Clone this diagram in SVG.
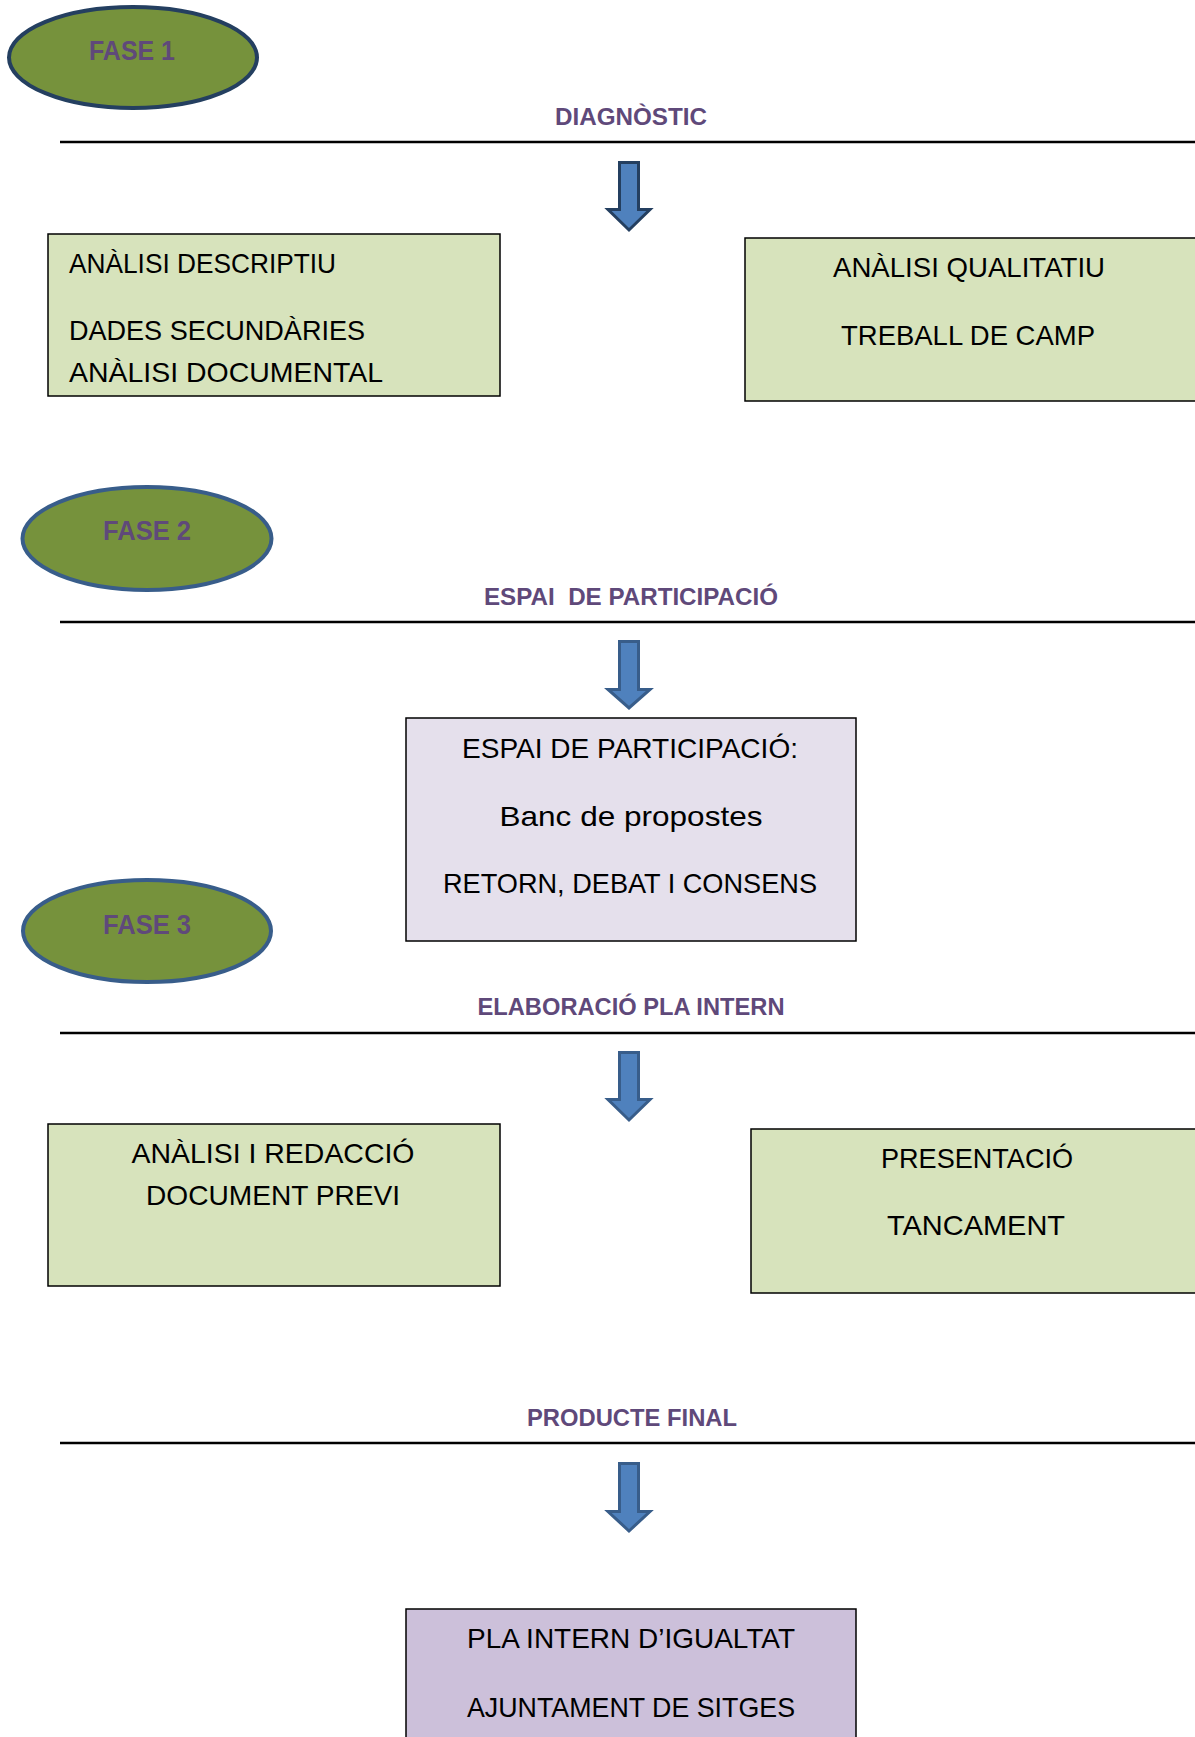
<svg xmlns="http://www.w3.org/2000/svg" width="1195" height="1737" viewBox="0 0 1195 1737">
<style>
.phase{fill:#76923C;stroke:#385D8A;stroke-width:4}
.phase1{stroke:#243F60}
.ptxt{font-family:"Liberation Sans",Arial,sans-serif;font-weight:bold;font-size:28px;fill:#5F497A;text-anchor:middle}
.head{font-family:"Liberation Sans",Arial,sans-serif;font-weight:bold;font-size:24px;fill:#5F497A;text-anchor:middle}
.rule{stroke:#000;stroke-width:2.5;fill:none}
.arrow{fill:#4F81BD;stroke:#385D8A;stroke-width:3;stroke-linejoin:miter}
.arrow1{stroke:#243F60}
.green{fill:#D7E3BC;stroke:#000;stroke-width:1.5}
.lilac{fill:#E5E0EC;stroke:#000;stroke-width:1.5}
.purple{fill:#CCC0DA;stroke:#000;stroke-width:1.5}
.body{font-family:"Liberation Sans",Arial,sans-serif;font-size:28px;fill:#000}
.mid{text-anchor:middle}
</style>
<rect width="1195" height="1737" fill="#fff"/>

<g id="connectors">
<line class="rule" x1="60" y1="142" x2="1195" y2="142"/>
<line class="rule" x1="60" y1="622" x2="1195" y2="622"/>
<line class="rule" x1="60" y1="1033" x2="1195" y2="1033"/>
<line class="rule" x1="60" y1="1443" x2="1195" y2="1443"/>
<path class="arrow arrow1" d="M619.5,162.5 H638.5 V209.5 H650 L629,230 L608,209.5 H619.5 Z"/>
<path class="arrow" d="M619.5,641.5 H638.5 V689.5 H650 L629,708 L608,689.5 H619.5 Z"/>
<path class="arrow" d="M619.5,1052.5 H638.5 V1099.5 H650 L629,1120 L608,1099.5 H619.5 Z"/>
<path class="arrow" d="M619.5,1463.5 H638.5 V1511.5 H650 L629,1531 L608,1511.5 H619.5 Z"/>
</g>

<g id="fase1">
<ellipse class="phase phase1" cx="133" cy="57.5" rx="124" ry="50.5"/>
<text class="ptxt" x="132" y="60" textLength="86" lengthAdjust="spacingAndGlyphs">FASE 1</text>
</g>
<g id="heading-diagnostic">
<text class="head" x="631" y="125" textLength="152" lengthAdjust="spacingAndGlyphs">DIAGNÒSTIC</text>
</g>
<g id="box-descriptiu">
<rect class="green" x="48" y="234" width="452" height="162"/>
<text class="body" x="69" y="273" textLength="267" lengthAdjust="spacingAndGlyphs">ANÀLISI DESCRIPTIU</text>
<text class="body" x="69" y="340" textLength="296" lengthAdjust="spacingAndGlyphs">DADES SECUNDÀRIES</text>
<text class="body" x="69" y="382" textLength="314" lengthAdjust="spacingAndGlyphs">ANÀLISI DOCUMENTAL</text>
</g>
<g id="box-qualitatiu">
<rect class="green" x="745" y="238" width="460" height="163"/>
<text class="body mid" x="969" y="277" textLength="272" lengthAdjust="spacingAndGlyphs">ANÀLISI QUALITATIU</text>
<text class="body mid" x="968" y="345" textLength="254" lengthAdjust="spacingAndGlyphs">TREBALL DE CAMP</text>
</g>

<g id="fase2">
<ellipse class="phase" cx="147" cy="538.5" rx="124.5" ry="51.5"/>
<text class="ptxt" x="147" y="540" textLength="88" lengthAdjust="spacingAndGlyphs">FASE 2</text>
</g>
<g id="heading-espai">
<text class="head" x="631" y="605" textLength="294" lengthAdjust="spacingAndGlyphs" xml:space="preserve">ESPAI  DE PARTICIPACIÓ</text>
</g>
<g id="box-participacio">
<rect class="lilac" x="406" y="718" width="450" height="223"/>
<text class="body mid" x="630" y="758" textLength="336" lengthAdjust="spacingAndGlyphs">ESPAI DE PARTICIPACIÓ:</text>
<text class="body mid" x="631" y="826" textLength="263" lengthAdjust="spacingAndGlyphs">Banc de propostes</text>
<text class="body mid" x="630" y="893" textLength="374" lengthAdjust="spacingAndGlyphs">RETORN, DEBAT I CONSENS</text>
</g>

<g id="fase3">
<ellipse class="phase" cx="147" cy="931" rx="124" ry="51"/>
<text class="ptxt" x="147" y="934" textLength="88" lengthAdjust="spacingAndGlyphs">FASE 3</text>
</g>
<g id="heading-elaboracio">
<text class="head" x="631" y="1015" textLength="307" lengthAdjust="spacingAndGlyphs">ELABORACIÓ PLA INTERN</text>
</g>
<g id="box-redaccio">
<rect class="green" x="48" y="1124" width="452" height="162"/>
<text class="body mid" x="273" y="1163" textLength="283" lengthAdjust="spacingAndGlyphs">ANÀLISI I REDACCIÓ</text>
<text class="body mid" x="273" y="1205" textLength="254" lengthAdjust="spacingAndGlyphs">DOCUMENT PREVI</text>
</g>
<g id="box-presentacio">
<rect class="green" x="751" y="1129" width="460" height="164"/>
<text class="body mid" x="977" y="1168" textLength="192" lengthAdjust="spacingAndGlyphs">PRESENTACIÓ</text>
<text class="body mid" x="976" y="1235" textLength="178" lengthAdjust="spacingAndGlyphs">TANCAMENT</text>
</g>

<g id="heading-producte">
<text class="head" x="632" y="1426" textLength="210" lengthAdjust="spacingAndGlyphs">PRODUCTE FINAL</text>
</g>
<g id="box-pla">
<rect class="purple" x="406" y="1609" width="450" height="140"/>
<text class="body mid" x="631" y="1648" textLength="328" lengthAdjust="spacingAndGlyphs">PLA INTERN D’IGUALTAT</text>
<text class="body mid" x="631" y="1717" textLength="328" lengthAdjust="spacingAndGlyphs">AJUNTAMENT DE SITGES</text>
</g>
</svg>
